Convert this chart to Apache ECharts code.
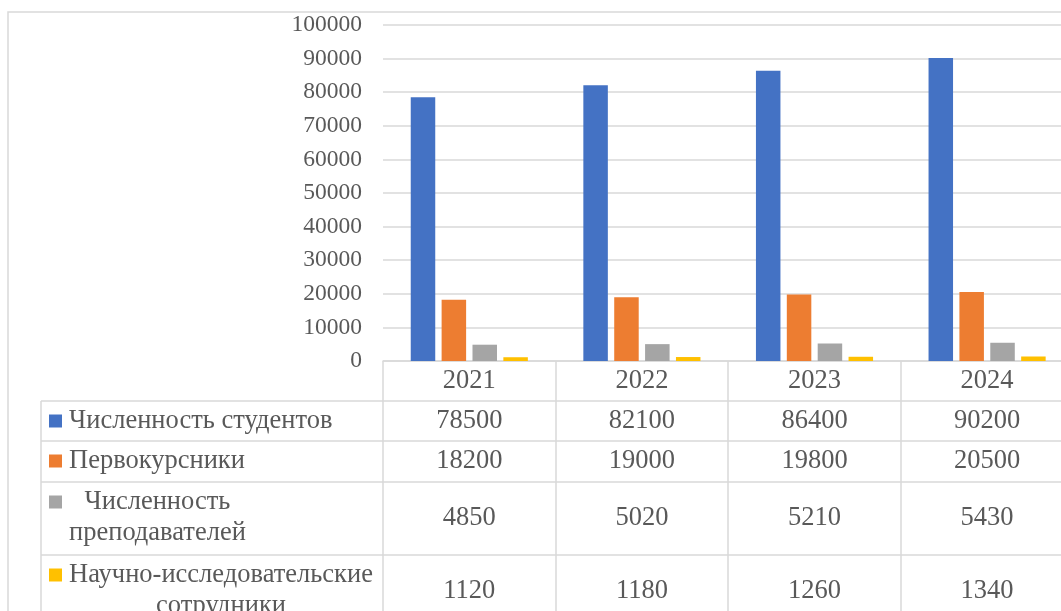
<!DOCTYPE html>
<html><head><meta charset="utf-8">
<script src="https://cdn.jsdelivr.net/npm/echarts@6/dist/echarts.min.js"></script>
<style>html,body{margin:0;padding:0;background:#fff}#c{width:1061px;height:611px}</style>
</head><body><div id="c"></div>
<script>
// ---- data ----
const years = ['2021', '2022', '2023', '2024'];
const seriesNames = ['Численность студентов', 'Первокурсники', 'Численность\nпреподавателей', 'Научно-исследовательские\nсотрудники'];
const students = [78500, 82100, 86400, 90200];
const freshmen = [18200, 19000, 19800, 20500];
const teachers = [4850, 5020, 5210, 5430];
const researchers = [1120, 1180, 1260, 1340];
const yMin = 0, yMax = 100000, yStep = 10000;

// ---- style / layout ----
const colors = ['#4472C4', '#ED7D31', '#A5A5A5', '#FFC000'];
const values = [students, freshmen, teachers, researchers];
const FONT = "'Liberation Serif', 'Times New Roman', serif";
const TXT = '#595959';
const LINE = '#D9D9D9';
const gridLeft = 383, gridTop = 25, axisY = 361, colW = 172.6;
const rowEdges = [361, 401, 441, 482, 555, 660];   // table row boundaries
const labelCenters = [381, 421, 461, 518.5, 591];  // text centers per row
const axFont = 23.5, tFont = 26.5, lh = 31;

const chart = echarts.init(document.getElementById('c'), null, {renderer: 'canvas'});

const xAxes = [];
for (let r = 0; r < 5; r++) {
  const top = rowEdges[r], h = rowEdges[r + 1] - top;
  xAxes.push({
    type: 'category', gridIndex: 0, position: 'bottom', offset: top - axisY,
    data: years, boundaryGap: true,
    axisLine: {show: true, lineStyle: {color: LINE, width: 1.5}},
    axisTick: {show: true, interval: 0, length: h, lineStyle: {color: LINE, width: 1.5}},
    axisLabel: {
      show: true, interval: 0, margin: labelCenters[r] - top, verticalAlign: 'middle',
      color: TXT, fontFamily: FONT, fontSize: tFont,
      formatter: (v, i) => r === 0 ? v : String(values[r - 1][i])
    },
    splitLine: {show: false}
  });
}

// legend column via measured text
const mctx = document.createElement('canvas').getContext('2d');
mctx.font = tFont + 'px ' + FONT;
const firstCenters = [421, 461, 502, 575];
const graphics = [
  {type: 'rect', silent: true, shape: {x: 8, y: 12, width: 1200, height: 800},
   style: {fill: null, stroke: LINE, lineWidth: 1.5}}
];
for (let r = 1; r <= 4; r++) {
  graphics.push({type: 'line', silent: true, shape: {x1: 41, y1: rowEdges[r], x2: gridLeft, y2: rowEdges[r]},
    style: {stroke: LINE, lineWidth: 1.5}});
}
graphics.push({type: 'line', silent: true, shape: {x1: 41, y1: rowEdges[1], x2: 41, y2: 700},
  style: {stroke: LINE, lineWidth: 1.5}});
seriesNames.forEach((name, i) => {
  const c = firstCenters[i];
  graphics.push({type: 'rect', silent: true, shape: {x: 49, y: c - 6.5, width: 13, height: 13},
    style: {fill: colors[i]}});
  const lines = name.split('\n');
  const maxW = Math.max(...lines.map(l => mctx.measureText(l).width));
  const multi = lines.length > 1;
  graphics.push({type: 'text', silent: true,
    x: multi ? 69 + maxW / 2 : 69, y: c - lh / 2,
    style: {text: name, font: tFont + 'px ' + FONT, fill: TXT,
      align: multi ? 'center' : 'left', verticalAlign: 'top', lineHeight: lh}});
});

chart.setOption({
  animation: false,
  backgroundColor: '#fff',
  grid: {left: gridLeft, top: gridTop, width: colW * 4, height: axisY - gridTop,
         containLabel: false, outerBoundsMode: 'none'},
  xAxis: xAxes,
  yAxis: {
    type: 'value', min: yMin, max: yMax, interval: yStep,
    axisLine: {show: false}, axisTick: {show: false},
    axisLabel: {color: TXT, fontFamily: FONT, fontSize: axFont, margin: 21, formatter: v => String(v)},
    splitLine: {lineStyle: {color: LINE, width: 1.5}}
  },
  series: values.map((v, i) => ({
    type: 'bar', name: seriesNames[i], xAxisIndex: 0, data: v,
    barWidth: 24.5, barGap: '26%',
    itemStyle: {color: colors[i]}
  })),
  graphic: graphics
});
</script>
</body></html>
